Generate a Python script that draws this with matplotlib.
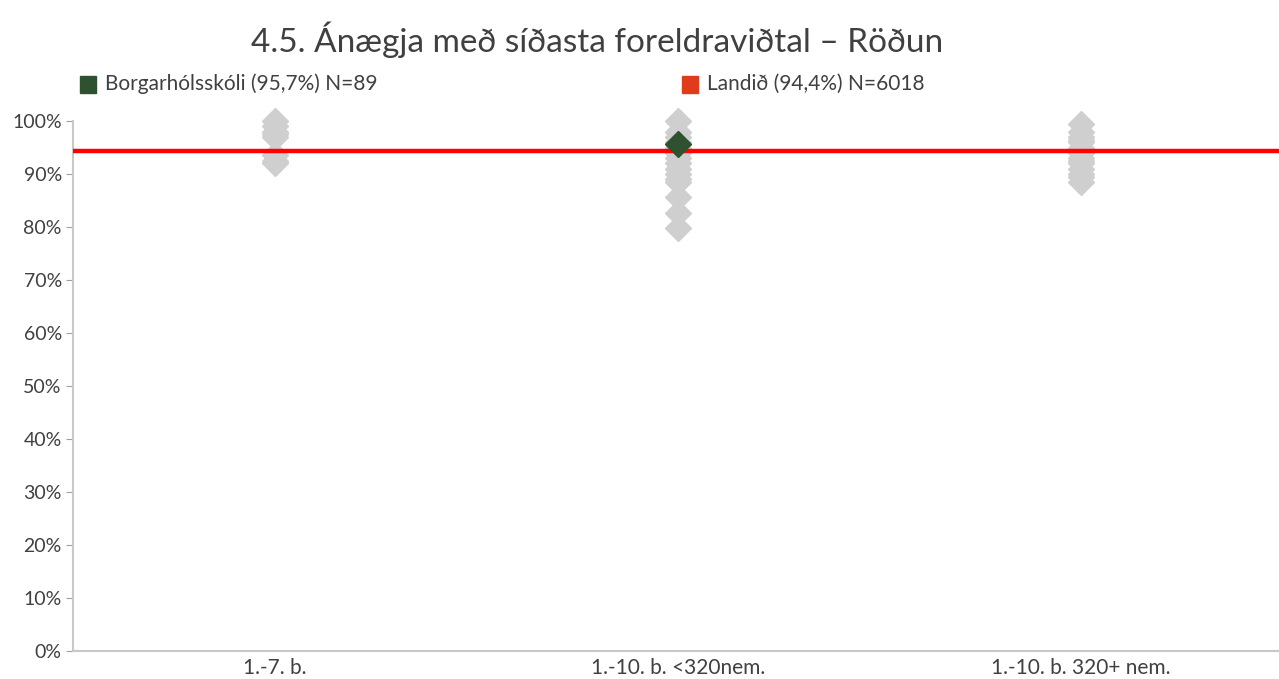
import numpy as np
import matplotlib
matplotlib.use("Agg")
import matplotlib.pyplot as plt
from matplotlib.patches import Rectangle

plt.rcParams["font.family"] = ["Lato", "DejaVu Sans"]

# Data
categories = ["1.-7. b.", "1.-10. b. <320nem.", "1.-10. b. 320+ nem."]
schools_small = [100, 99, 98, 97.5, 97, 93.5, 92.5, 92]
schools_mid = [100, 98, 97, 96, 95, 94, 93, 92, 91, 90, 89, 88.5, 85.7, 82.6, 79.8]
schools_large = [99.4, 98, 97, 96.5, 96, 95, 94.5, 94, 93, 92.5, 92, 91, 90, 89.5, 88.5]
school_cat = 1
school_value = 95.7
national_value = 94.4
school_label = "Borgarhólsskóli (95,7%) N=89"
national_label = "Landið (94,4%) N=6018"
title = "4.5. Ánægja með síðasta foreldraviðtal – Röðun"

text_col = "#404040"
gray = "#CFCFCF"
green = "#2E5230"

fig = plt.figure(figsize=(12.79, 6.79), dpi=100)
ax = fig.add_axes([0.057, 28 / 679, 0.946, 530 / 679])

groups = [schools_small, schools_mid, schools_large]
for i, vals in enumerate(groups):
    v = np.array(vals) / 100
    ax.plot(np.full(len(v), i), v, linestyle="none", marker="D", ms=13,
            color=gray, mec=gray, clip_on=False, zorder=2)

ax.axhline(national_value / 100, color="#FF0000", lw=3.2, zorder=3)
ax.plot([school_cat], [school_value / 100], linestyle="none", marker="D", ms=13,
        color=green, mec=green, clip_on=False, zorder=4)

ax.set_xlim(-0.5, 2.5)
ax.set_ylim(0, 1)
ax.set_yticks(np.arange(0, 1.01, 0.1))
ax.set_yticklabels([f"{int(round(t * 100))}%" for t in np.arange(0, 1.01, 0.1)])
ax.set_xticks(range(len(categories)))
ax.set_xticklabels(categories)

for s in ["top", "right"]:
    ax.spines[s].set_visible(False)
for s in ["left", "bottom"]:
    ax.spines[s].set_color("#C8C8C8")
    ax.spines[s].set_linewidth(1.5)
ax.tick_params(axis="y", length=5, color="#A0A0A0", labelsize=14, labelcolor=text_col, pad=3)
ax.tick_params(axis="x", length=0, labelsize=15, labelcolor=text_col, pad=5)

fig.text(0.467, 1 - 40 / 679, title, ha="center", va="center", fontsize=24,
         color=text_col)

# legend
fig.add_artist(Rectangle((80 / 1279, 1 - 93 / 679), 16 / 1279, 17 / 679,
                         transform=fig.transFigure, color=green))
fig.text(105 / 1279, 1 - 84 / 679, school_label, ha="left", va="center", fontsize=15,
         color=text_col)
fig.add_artist(Rectangle((682 / 1279, 1 - 93 / 679), 16 / 1279, 17 / 679,
                         transform=fig.transFigure, color="#E03C1C"))
fig.text(707 / 1279, 1 - 84 / 679, national_label, ha="left", va="center", fontsize=15,
         color=text_col)

fig.savefig("out.png", dpi=100)
